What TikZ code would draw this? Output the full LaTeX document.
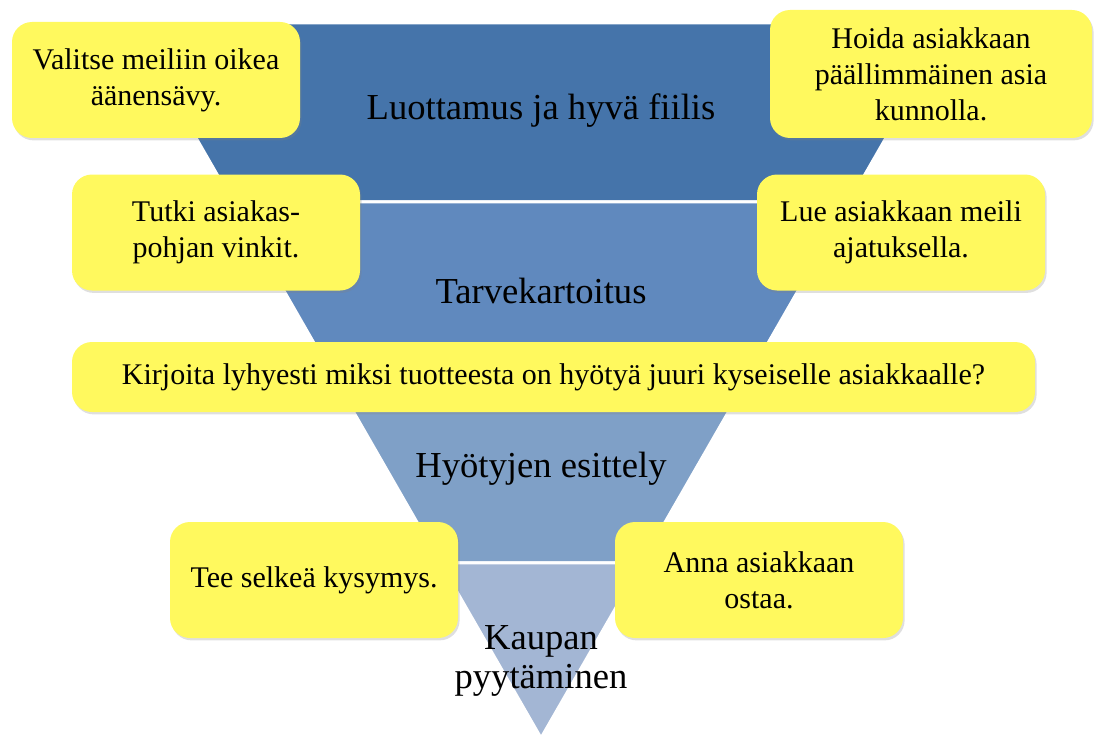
\documentclass[tikz,border=0pt]{standalone}
\usepackage{fontspec}
\setmainfont{Liberation Serif}
\usetikzlibrary{calc,shadows}
\definecolor{bandA}{HTML}{4574AA}
\definecolor{bandB}{HTML}{6089BE}
\definecolor{bandC}{HTML}{7FA0C7}
\definecolor{bandD}{HTML}{A3B6D4}
\definecolor{noteyellow}{HTML}{FFF95E}
\begin{document}
\begin{tikzpicture}[x=0.5pt,y=-0.5pt,
  band/.style={draw=white,line width=1.5pt,line join=round},
  note/.style={fill=noteyellow,rounded corners=10pt,minimum width=144pt,minimum height=58pt,
    align=center,inner sep=2pt,font=\fontsize{15}{18}\selectfont,
    drop shadow={opacity=0.25,shadow xshift=0.8pt,shadow yshift=-1.2pt}},
  stage/.style={align=center,inner sep=0pt,font=\fontsize{18.3}{19.5}\selectfont}]
\useasboundingbox (0,0) rectangle (1097,738);
\coordinate (tl) at (130,23);
\coordinate (tr) at (952,23);
\coordinate (apex) at (541,738);
\coordinate (l1) at ($(tl)!0.25!(apex)$);
\coordinate (r1) at ($(tr)!0.25!(apex)$);
\coordinate (l2) at ($(tl)!0.497!(apex)$);
\coordinate (r2) at ($(tr)!0.497!(apex)$);
\coordinate (l3) at ($(tl)!0.755!(apex)$);
\coordinate (r3) at ($(tr)!0.755!(apex)$);
% funnel
\filldraw[band,fill=bandA] (tl)--(tr)--(r1)--(l1)--cycle;
\filldraw[band,fill=bandB] (l1)--(r1)--(r2)--(l2)--cycle;
\filldraw[band,fill=bandC] (l2)--(r2)--(r3)--(l3)--cycle;
\filldraw[band,fill=bandD] (l3)--(r3)--(apex)--cycle;
\node[stage] (luottamus) at (541,111) {Luottamus ja hyvä fiilis};
\node[stage] (tarve) at (541,291) {Tarvekartoitus};
\node[stage] (hyodyt) at (541,469) {Hyötyjen esittely};
% notes
\node[note] (savy) at (156,80) {Valitse meiliin oikea\\äänensävy.};
\node[note,minimum width=161pt,minimum height=64pt] (hoida) at (931,74) {Hoida asiakkaan\\päällimmäinen asia\\kunnolla.};
\node[note] (vinkit) at (216,232.5) {Tutki asiakas-\\pohjan vinkit.};
\node[note] (lue) at (901,232.5) {Lue asiakkaan meili\\ajatuksella.};
\node[note,minimum width=481.5pt,minimum height=35pt] (hyoty) at (553.5,377) {Kirjoita lyhyesti miksi tuotteesta on hyötyä juuri kyseiselle asiakkaalle?};
\node[note] (kysymys) at (314,580) {Tee selkeä kysymys.};
\node[note] (osta) at (759,580) {Anna asiakkaan\\ostaa.};
\node[stage] (kauppa) at (541,661) {Kaupan\\pyytäminen};
\end{tikzpicture}
\end{document}
